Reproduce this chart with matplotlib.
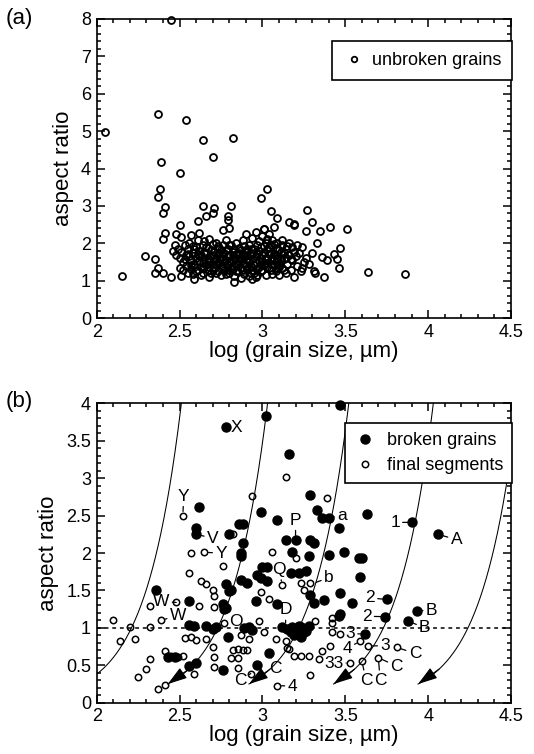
import numpy as np
import matplotlib
matplotlib.use('Agg')
import matplotlib.pyplot as plt
from matplotlib.ticker import MultipleLocator, FormatStrFormatter

plt.rcParams['font.family'] = ['Liberation Sans', 'DejaVu Sans']

# (a) unbroken grains: scattered points (log size, aspect ratio)
unbroken_sparse = [
    (2.45, 7.98), (2.05, 4.97), (2.37, 5.47), (2.54, 5.31), (2.64, 4.76), (2.82, 4.82),
    (2.70, 4.30), (2.39, 4.17), (2.50, 3.87), (2.38, 3.45), (2.37, 3.24), (2.41, 2.98),
    (2.40, 2.82), (2.64, 2.99), (2.71, 2.95), (2.70, 2.82), (2.66, 2.74), (2.61, 2.61),
    (2.50, 2.50), (2.81, 3.00), (2.79, 2.73), (2.79, 2.62), (2.80, 2.40), (2.76, 2.35),
    (2.99, 3.20), (3.03, 3.45), (3.05, 2.87), (3.09, 2.68), (3.07, 2.43), (3.01, 2.39),
    (3.16, 2.56), (3.19, 2.51), (3.19, 2.48), (3.27, 2.90), (3.30, 2.57), (3.26, 2.33),
    (3.35, 2.34), (3.41, 2.44), (3.51, 2.39), (3.33, 2.00), (3.24, 1.91), (3.47, 1.88),
    (3.43, 1.72), (3.45, 1.58), (3.36, 1.63), (3.39, 1.55), (3.46, 1.33), (3.31, 1.27),
    (3.37, 1.11), (3.64, 1.23), (3.86, 1.19), (2.15, 1.14), (2.29, 1.65), (2.35, 1.57),
    (2.37, 1.35), (2.35, 1.22), (2.40, 1.22), (2.45, 1.10), (2.41, 2.29), (2.40, 2.12),
    (2.48, 2.25), (2.51, 2.16), (2.57, 2.21), (2.62, 2.27), (2.51, 1.14), (2.59, 1.05),
    (2.68, 1.11), (2.83, 0.97),
]

# (a) unbroken grains: dense cluster
unbroken_cluster = [
    (2.46, 1.80), (2.47, 1.95), (2.48, 1.70), (2.49, 1.85), (2.50, 1.35), (2.50, 1.62),
    (2.51, 1.78), (2.52, 1.28), (2.52, 1.50), (2.53, 1.95), (2.54, 1.40), (2.54, 1.68),
    (2.55, 1.22), (2.55, 1.85), (2.56, 2.02), (2.57, 1.55), (2.57, 1.32), (2.58, 1.75),
    (2.58, 1.18), (2.59, 1.45), (2.60, 1.90), (2.60, 1.62), (2.61, 1.28), (2.61, 2.10),
    (2.62, 1.52), (2.62, 1.80), (2.63, 1.38), (2.63, 1.68), (2.64, 1.95), (2.64, 1.22),
    (2.65, 1.58), (2.65, 2.05), (2.66, 1.42), (2.66, 1.75), (2.67, 1.30), (2.67, 1.88),
    (2.68, 1.55), (2.68, 2.12), (2.69, 1.65), (2.69, 1.20), (2.70, 1.45), (2.70, 1.98),
    (2.71, 1.78), (2.71, 1.35), (2.72, 1.58), (2.72, 2.02), (2.73, 1.25), (2.73, 1.70),
    (2.74, 1.48), (2.74, 1.88), (2.75, 1.15), (2.75, 1.62), (2.76, 1.38), (2.76, 1.95),
    (2.77, 1.75), (2.77, 1.28), (2.78, 1.55), (2.78, 2.08), (2.79, 1.42), (2.79, 1.85),
    (2.80, 1.20), (2.80, 1.65), (2.81, 1.95), (2.81, 1.50), (2.82, 1.32), (2.82, 1.78),
    (2.83, 1.12), (2.83, 1.60), (2.84, 1.42), (2.84, 2.00), (2.85, 1.70), (2.85, 1.25),
    (2.86, 1.88), (2.86, 1.52), (2.87, 1.08), (2.87, 1.35), (2.88, 1.65), (2.88, 2.10),
    (2.89, 1.45), (2.89, 1.18), (2.90, 1.80), (2.90, 2.25), (2.91, 1.55), (2.91, 1.28),
    (2.92, 1.95), (2.92, 1.12), (2.93, 1.68), (2.93, 1.40), (2.94, 2.15), (2.94, 1.05),
    (2.95, 1.22), (2.95, 1.85), (2.96, 1.50), (2.96, 2.30), (2.97, 1.72), (2.97, 1.15),
    (2.98, 2.05), (2.98, 1.38), (2.99, 1.90), (2.99, 1.60), (3.00, 2.20), (3.00, 1.28),
    (3.01, 1.75), (3.01, 2.38), (3.02, 1.48), (3.02, 2.02), (3.03, 1.85), (3.03, 1.62),
    (3.04, 2.25), (3.04, 1.35), (3.05, 1.95), (3.05, 1.55), (3.06, 1.18), (3.06, 2.10),
    (3.07, 1.72), (3.07, 1.42), (3.08, 1.88), (3.08, 1.25), (3.09, 1.60), (3.09, 2.00),
    (3.10, 1.48), (3.10, 1.15), (3.11, 1.78), (3.12, 1.35), (3.12, 1.95), (3.13, 1.58),
    (3.14, 1.22), (3.14, 1.85), (3.15, 1.45), (3.16, 1.70), (3.16, 2.00), (3.17, 1.30),
    (3.18, 1.55), (3.18, 1.90), (3.19, 1.10), (3.20, 1.65), (3.21, 1.40), (3.22, 1.75),
    (3.23, 1.25), (3.25, 1.50),
    (2.56, 1.65), (2.58, 1.92), (2.59, 1.38), (2.61, 1.72), (2.63, 1.15), (2.64, 1.48),
    (2.66, 1.90), (2.67, 1.62), (2.69, 1.82), (2.70, 1.30), (2.72, 1.45), (2.73, 1.92),
    (2.74, 1.60), (2.75, 1.82), (2.77, 1.50), (2.78, 1.18), (2.79, 1.68), (2.80, 1.95),
    (2.81, 1.35), (2.82, 1.55), (2.83, 1.85), (2.84, 1.25), (2.85, 1.48), (2.86, 1.75),
    (2.87, 1.58), (2.88, 1.30), (2.89, 1.92), (2.90, 1.40), (2.91, 1.68), (2.92, 1.50),
    (2.93, 1.85), (2.94, 1.30), (2.95, 1.60), (2.96, 1.10), (2.97, 1.95), (2.98, 1.52),
    (2.99, 1.25), (3.00, 1.68), (3.01, 1.42), (3.02, 1.15), (3.03, 2.12), (3.04, 1.72),
    (3.05, 1.28), (3.06, 1.62), (3.07, 1.98), (3.08, 1.50), (3.09, 1.35), (3.10, 1.82),
    (3.11, 1.62), (3.12, 2.10), (3.13, 1.28), (3.15, 1.92), (3.17, 1.58), (3.19, 1.78),
    (3.21, 1.95), (3.24, 1.35), (3.26, 1.62), (3.28, 1.45), (3.30, 1.75), (3.32, 1.20),
    (2.53, 1.58), (2.55, 1.72), (2.57, 1.42), (2.59, 1.85), (2.60, 1.25), (2.62, 1.65),
    (2.64, 1.35), (2.65, 1.78), (2.67, 1.50), (2.68, 1.38), (2.70, 1.70), (2.71, 1.55),
    (2.72, 1.22), (2.74, 1.75), (2.75, 1.40), (2.76, 1.58), (2.78, 1.82), (2.79, 1.30),
    (2.80, 1.52), (2.82, 1.68), (2.83, 1.40), (2.84, 1.72), (2.86, 1.62), (2.87, 1.82),
    (2.88, 1.48), (2.89, 1.70), (2.90, 1.58), (2.91, 1.85), (2.92, 1.38), (2.93, 1.22),
    (2.94, 1.75), (2.95, 1.42), (2.96, 1.65), (2.97, 1.32), (2.98, 1.80), (2.99, 1.45),
    (3.00, 1.52), (3.01, 1.92), (3.02, 1.62), (3.03, 1.38), (3.04, 1.90), (3.05, 1.75),
    (3.06, 1.45), (3.07, 1.55), (3.08, 1.70), (3.09, 1.82), (3.10, 1.38), (3.11, 1.55),
    (3.13, 1.75), (3.14, 1.62),
]

# (b) broken grains (filled)
broken = [
    (2.78, 3.68), (3.02, 3.83), (3.16, 3.32), (2.62, 2.61), (2.99, 2.55), (3.09, 2.44),
    (2.86, 2.39), (2.88, 2.39), (2.60, 2.33), (2.60, 2.25), (2.80, 2.25), (3.14, 2.18),
    (3.20, 2.18), (2.88, 2.13), (2.87, 2.00), (2.87, 1.96), (3.18, 2.01),
    (3.47, 3.98), (3.29, 2.78), (3.33, 2.58), (3.36, 2.47), (3.40, 2.47), (3.63, 2.52),
    (3.46, 2.33), (3.90, 2.41), (4.06, 2.25), (3.29, 2.18), (3.31, 2.14), (3.28, 1.96),
    (3.40, 1.98), (3.49, 2.01), (3.58, 1.94), (3.60, 1.94),
    (2.87, 1.64), (3.00, 1.82), (3.03, 1.82), (2.97, 1.71), (2.99, 1.67), (3.17, 1.73),
    (3.22, 1.74), (2.91, 1.60), (3.03, 1.62), (2.78, 1.58), (2.80, 1.49), (2.81, 1.51),
    (2.36, 1.50), (2.56, 1.36), (2.76, 1.32), (2.77, 1.25), (2.78, 1.27), (2.96, 1.36),
    (3.09, 1.32), (2.56, 1.04), (2.59, 1.02), (2.66, 1.02), (2.70, 0.98), (2.72, 1.01),
    (2.89, 1.00), (2.92, 1.01), (2.94, 0.97), (3.12, 1.01), (3.15, 0.98), (3.18, 1.01),
    (3.20, 0.98), (3.23, 1.01), (3.25, 0.94), (2.79, 0.88), (2.43, 0.61), (2.47, 0.61),
    (2.97, 0.51), (2.56, 0.49), (2.60, 0.53), (2.76, 0.44), (3.04, 0.67),
    (3.26, 1.76), (3.59, 1.68), (3.29, 1.44), (3.47, 1.47), (3.31, 1.33), (3.37, 1.37),
    (3.54, 1.33), (3.75, 1.38), (3.74, 1.15), (3.93, 1.23), (3.88, 1.09), (3.46, 1.16),
    (3.47, 1.18), (3.62, 0.92), (3.17, 0.95), (3.19, 0.90), (3.21, 0.98), (3.23, 0.88),
    (3.26, 0.96), (3.28, 1.02), (3.22, 1.03),
]

# (b) final segments (open)
segments = [
    (3.14, 3.02), (2.94, 2.76), (2.52, 2.50), (2.82, 2.25), (2.57, 2.00), (2.65, 2.01),
    (3.06, 2.01), (3.20, 1.93), (3.39, 2.74),
    (2.76, 1.83), (2.56, 1.73), (3.12, 1.57), (3.23, 1.60), (2.63, 1.62), (2.66, 1.58),
    (2.70, 1.51), (2.99, 1.48), (2.48, 1.34), (2.32, 1.29), (2.62, 1.29), (2.71, 1.42),
    (2.71, 1.28), (3.04, 1.38), (2.39, 1.10), (2.10, 1.10), (2.20, 1.01), (2.32, 1.01),
    (2.77, 1.07), (2.98, 1.09), (3.01, 0.94), (2.14, 0.83), (2.23, 0.85), (2.53, 0.86),
    (2.57, 0.88), (2.60, 0.84), (2.66, 0.85), (2.70, 0.75), (2.87, 0.91), (2.92, 0.85),
    (3.08, 0.85), (3.14, 0.82), (3.15, 0.73), (2.41, 0.69), (2.45, 0.62), (2.49, 0.61),
    (2.52, 0.63), (2.71, 0.61), (2.82, 0.70), (2.85, 0.72), (2.88, 0.70), (2.91, 0.71),
    (2.81, 0.60), (2.85, 0.60), (3.16, 0.72), (2.32, 0.58), (2.30, 0.45), (2.25, 0.35),
    (2.59, 0.39), (2.71, 0.48), (2.85, 0.46), (2.93, 0.39), (2.37, 0.18), (2.41, 0.24),
    (3.09, 0.23),
    (3.27, 1.78), (3.29, 1.60), (3.25, 1.50), (3.42, 1.13), (3.42, 1.06), (3.32, 1.09),
    (3.42, 0.94), (3.47, 0.92), (3.59, 0.82), (3.64, 0.76), (3.81, 0.74), (3.41, 0.76),
    (3.36, 0.69), (3.34, 0.58), (3.19, 0.63), (3.23, 0.63), (3.28, 0.63), (3.53, 0.53),
    (3.60, 0.56), (3.70, 0.60), (3.29, 0.37),
]

# grain labels: text, point x, point y, text x, text y
grain_labels = [
    ("X", 2.78, 3.68, 2.845, 3.68), ("Y", 2.52, 2.50, 2.525, 2.76),
    ("V", 2.60, 2.25, 2.70, 2.20), ("Y", 2.65, 2.01, 2.75, 2.00),
    ("P", 3.20, 2.18, 3.20, 2.44), ("a", 3.40, 2.47, 3.48, 2.50),
    ("1", 3.90, 2.41, 3.80, 2.41), ("A", 4.06, 2.25, 4.17, 2.18),
    ("Q", 3.12, 1.57, 3.10, 1.78), ("b", 3.30, 1.59, 3.40, 1.67),
    ("W", 2.48, 1.34, 2.39, 1.355), ("W", 2.39, 1.10, 2.49, 1.17),
    ("D", 3.14, 1.01, 3.14, 1.24), ("O", 2.84, 1.09, 2.84, 1.09),
    ("2", 3.75, 1.38, 3.65, 1.40), ("2", 3.74, 1.15, 3.63, 1.155),
    ("B", 3.93, 1.23, 4.02, 1.235), ("B", 3.88, 1.09, 3.98, 1.00),
    ("3", 3.62, 0.92, 3.53, 0.92), ("4", 3.59, 0.82, 3.51, 0.73),
    ("3", 3.64, 0.76, 3.74, 0.76), ("C", 3.81, 0.74, 3.92, 0.66),
    ("33", 3.53, 0.53, 3.43, 0.53), ("C", 3.60, 0.56, 3.625, 0.30),
    ("C", 3.70, 0.60, 3.71, 0.30), ("C", 3.70, 0.60, 3.81, 0.49),
    ("C", 3.04, 0.67, 3.08, 0.46), ("C", 2.93, 0.39, 2.865, 0.30),
    ("4", 3.09, 0.23, 3.18, 0.22),
]

# breakage paths: log size where each path crosses aspect ratio 1
path_x0 = [2.21, 2.73, 3.22, 3.73, 4.24]
path_end = 0.25


def style_axes(ax, ymax, ymajor, yminor):
    ax.set_xlim(2, 4.5)
    ax.set_ylim(0, ymax)
    ax.xaxis.set_major_locator(MultipleLocator(0.5))
    ax.xaxis.set_minor_locator(MultipleLocator(0.1))
    ax.yaxis.set_major_locator(MultipleLocator(ymajor))
    ax.yaxis.set_minor_locator(MultipleLocator(yminor))
    ax.xaxis.set_major_formatter(FormatStrFormatter('%g'))
    ax.yaxis.set_major_formatter(FormatStrFormatter('%g'))
    ax.tick_params(which='both', direction='in', top=True, right=True, width=1.1,
                   labelsize=13, pad=4)
    ax.tick_params(which='major', length=6)
    ax.tick_params(which='minor', length=3)
    for sp in ax.spines.values():
        sp.set_linewidth(1.2)
    ax.set_xlabel(u'log (grain size, \u00b5m)', fontsize=16, labelpad=0)
    ax.set_ylabel('aspect ratio', fontsize=16, labelpad=5)


fig = plt.figure(figsize=(5.34, 7.54), dpi=100)
ax1 = fig.add_axes([0.181, 0.578, 0.776, 0.397])
ax2 = fig.add_axes([0.181, 0.068, 0.776, 0.397])

# (a)
xs, ys = np.array(unbroken_sparse).T
xc, yc = np.array(unbroken_cluster).T
ax1.plot(np.r_[xs, xc], np.r_[ys, yc], 'o', ms=5, mfc='none', mec='k', mew=1.3,
         clip_on=False, label='unbroken grains')
style_axes(ax1, 8, 1, 0.2)
leg = ax1.legend(loc='upper right', bbox_to_anchor=(1.003, 0.925), borderaxespad=0,
                 fontsize=13, frameon=True, fancybox=False, edgecolor='k',
                 framealpha=1, handletextpad=0.4, handlelength=1.2, borderpad=0.6,
                 markerscale=0.8)
leg.get_frame().set_linewidth(1.2)

# (b)
for x0 in path_x0:
    yy = np.linspace(path_end, 4.5, 300)
    xx = x0 + 0.5 * np.log10(yy)
    ax2.plot(xx, yy, '-', color='k', lw=0.75)
    if x0 + 0.5 * np.log10(path_end) > 2:
        ax2.annotate('', xy=(xx[0], yy[0]), xytext=(xx[14], yy[14]),
                     arrowprops=dict(arrowstyle='-|>,head_length=1.0,head_width=0.32',
                                     color='k', lw=0.8, mutation_scale=12,
                                     shrinkA=0, shrinkB=0))
ax2.axhline(1, color='k', lw=1.1, ls=(0, (2.5, 2.5)))

xb, yb = np.array(broken).T
xf, yf = np.array(segments).T
ax2.plot(xb, yb, 'o', ms=6.5, mfc='k', mec='k', clip_on=False, label='broken grains')
ax2.plot(xf, yf, 'o', ms=4.6, mfc='none', mec='k', mew=1.1, label='final segments')

for txt, px, py, tx, ty in grain_labels:
    ax2.annotate(txt, xy=(px, py), xytext=(tx, ty), fontsize=12.5, ha='center',
                 va='center',
                 arrowprops=dict(arrowstyle='-', color='k', lw=0.9, shrinkA=0,
                                 shrinkB=3))

style_axes(ax2, 4, 0.5, 0.1)
leg2 = ax2.legend(loc='upper right', bbox_to_anchor=(1.003, 0.935), borderaxespad=0,
                  fontsize=13, frameon=True, fancybox=False, edgecolor='k',
                  framealpha=1, handletextpad=0.6, handlelength=1.2, borderpad=0.5,
                  labelspacing=0.45)
leg2.get_frame().set_linewidth(1.2)
leg2.set_zorder(5)

fig.text(0.01, 0.975, '(a)', fontsize=16, va='center')
fig.text(0.01, 0.468, '(b)', fontsize=16, va='center')

fig.savefig('out.png', dpi=100)
